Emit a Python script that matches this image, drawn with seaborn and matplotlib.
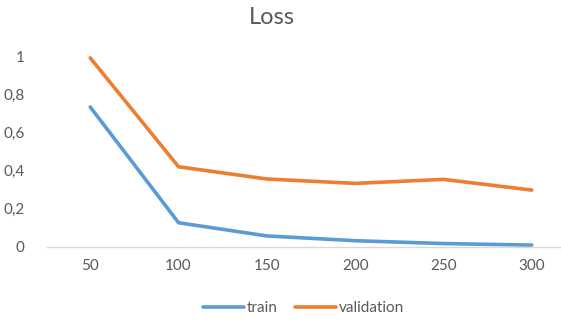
import pandas as pd
import numpy as np
import seaborn as sns
import matplotlib.pyplot as plt
import matplotlib as mpl

epochs = ['50', '100', '150', '200', '250', '300']
train = [0.733, 0.127, 0.058, 0.033, 0.018, 0.010]
validation = [0.990, 0.420, 0.356, 0.333, 0.354, 0.298]
y_ticks = [0, 0.2, 0.4, 0.6, 0.8, 1.0]

df = pd.DataFrame({'Epoch': epochs * 2,
                   'Loss': train + validation,
                   'Series': ['train'] * len(epochs) + ['validation'] * len(epochs)})

sns.set_theme(style='white')
plt.rcParams['font.family'] = ['Lato', 'DejaVu Sans']
grey = '#595959'
palette = {'train': '#5B9BD5', 'validation': '#ED7D31'}

fig = plt.figure(figsize=(5.61, 3.24), dpi=100)
ax = fig.add_axes([47 / 561, 1 - 247 / 324, (560 - 47) / 561, (247 - 56) / 324])
sns.lineplot(data=df, x='Epoch', y='Loss', hue='Series', palette=palette,
             linewidth=2.6, ax=ax, sort=False, legend=True)
for ln in ax.lines:
    ln.set_clip_on(False)
    ln.set_solid_capstyle('round')

ax.set_xlim(-0.49, 5.32)
ax.set_ylim(0, 1)
ax.set_yticks(y_ticks)
ax.yaxis.set_major_formatter(mpl.ticker.FuncFormatter(
    lambda v, p: format(v, 'g').replace('.', ',')))
ax.tick_params(axis='both', length=0, labelsize=11, labelcolor=grey)
ax.tick_params(axis='y', pad=16)
ax.tick_params(axis='x', pad=9)
for s in ['top', 'right', 'left']:
    ax.spines[s].set_visible(False)
ax.spines['bottom'].set_color('#D9D9D9')
ax.spines['bottom'].set_linewidth(1)
ax.set_xlabel('')
ax.set_ylabel('')

fig.text(272 / 561, 1 - 17 / 324, 'Loss', ha='center', va='center',
         fontsize=17, color=grey)

handles, labels = ax.get_legend_handles_labels()
ax.legend(handles, labels, loc='center', bbox_to_anchor=(0.5, (308 - 247) / -191 + 0.0),
          ncol=2, frameon=False, fontsize=11, handlelength=2.7, handletextpad=0.2,
          columnspacing=1.1, labelcolor=grey)

fig.savefig('out.png', dpi=100)
